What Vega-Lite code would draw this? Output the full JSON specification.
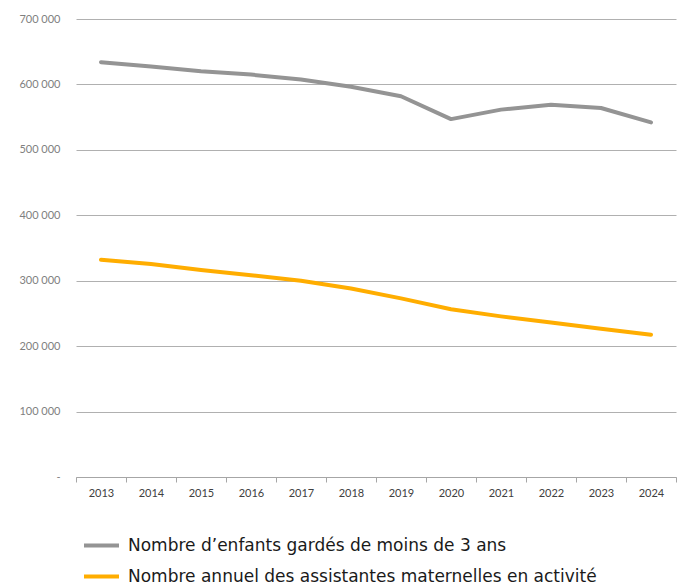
{
  "$schema": "https://vega.github.io/schema/vega-lite/v6.json",
  "autosize": "none",
  "width": 600,
  "height": 458,
  "padding": {"left": 76, "top": 19, "right": 5, "bottom": 108},
  "background": "white",
  "data": {
    "values": [
      {"annee": "2013", "serie": "Nombre d’enfants gardés de moins de 3 ans", "valeur": 634000},
      {"annee": "2014", "serie": "Nombre d’enfants gardés de moins de 3 ans", "valeur": 627500},
      {"annee": "2015", "serie": "Nombre d’enfants gardés de moins de 3 ans", "valeur": 620000},
      {"annee": "2016", "serie": "Nombre d’enfants gardés de moins de 3 ans", "valeur": 615000},
      {"annee": "2017", "serie": "Nombre d’enfants gardés de moins de 3 ans", "valeur": 607500},
      {"annee": "2018", "serie": "Nombre d’enfants gardés de moins de 3 ans", "valeur": 596500},
      {"annee": "2019", "serie": "Nombre d’enfants gardés de moins de 3 ans", "valeur": 582000},
      {"annee": "2020", "serie": "Nombre d’enfants gardés de moins de 3 ans", "valeur": 547000},
      {"annee": "2021", "serie": "Nombre d’enfants gardés de moins de 3 ans", "valeur": 561500},
      {"annee": "2022", "serie": "Nombre d’enfants gardés de moins de 3 ans", "valeur": 569000},
      {"annee": "2023", "serie": "Nombre d’enfants gardés de moins de 3 ans", "valeur": 564000},
      {"annee": "2024", "serie": "Nombre d’enfants gardés de moins de 3 ans", "valeur": 542000},
      {"annee": "2013", "serie": "Nombre annuel des assistantes maternelles en activité", "valeur": 332000},
      {"annee": "2014", "serie": "Nombre annuel des assistantes maternelles en activité", "valeur": 325500},
      {"annee": "2015", "serie": "Nombre annuel des assistantes maternelles en activité", "valeur": 316500},
      {"annee": "2016", "serie": "Nombre annuel des assistantes maternelles en activité", "valeur": 308500},
      {"annee": "2017", "serie": "Nombre annuel des assistantes maternelles en activité", "valeur": 300000},
      {"annee": "2018", "serie": "Nombre annuel des assistantes maternelles en activité", "valeur": 288000},
      {"annee": "2019", "serie": "Nombre annuel des assistantes maternelles en activité", "valeur": 273000},
      {"annee": "2020", "serie": "Nombre annuel des assistantes maternelles en activité", "valeur": 256500},
      {"annee": "2021", "serie": "Nombre annuel des assistantes maternelles en activité", "valeur": 245500},
      {"annee": "2022", "serie": "Nombre annuel des assistantes maternelles en activité", "valeur": 236000},
      {"annee": "2023", "serie": "Nombre annuel des assistantes maternelles en activité", "valeur": 226500},
      {"annee": "2024", "serie": "Nombre annuel des assistantes maternelles en activité", "valeur": 217500}
    ]
  },
  "mark": {"type": "line", "strokeWidth": 4, "strokeCap": "round", "strokeJoin": "round"},
  "encoding": {
    "x": {
      "field": "annee",
      "type": "ordinal",
      "scale": {"type": "band", "paddingInner": 0, "paddingOuter": 0},
      "axis": {
        "title": null,
        "labelAngle": 0,
        "tickBand": "extent",
        "domainColor": "#a6a6a6",
        "tickColor": "#a6a6a6",
        "tickSize": 5,
        "labelPadding": 5,
        "labelFont": "Lato",
        "labelFontSize": 11,
        "labelColor": "#404040",
        "grid": false
      }
    },
    "y": {
      "field": "valeur",
      "type": "quantitative",
      "scale": {"domain": [0, 700000], "nice": false},
      "axis": {
        "title": null,
        "values": [0, 100000, 200000, 300000, 400000, 500000, 600000, 700000],
        "labelExpr": "datum.value == 0 ? '-' : replace(format(datum.value, ',d'), /,/g, ' ')",
        "domain": false,
        "ticks": false,
        "labelPadding": 16,
        "labelFont": "Lato",
        "labelFontSize": 11,
        "labelColor": "#7f7f7f",
        "gridColor": "#b0b0b0",
        "gridWidth": 1
      }
    },
    "color": {
      "field": "serie",
      "type": "nominal",
      "sort": ["Nombre d’enfants gardés de moins de 3 ans", "Nombre annuel des assistantes maternelles en activité"],
      "scale": {
        "domain": ["Nombre d’enfants gardés de moins de 3 ans", "Nombre annuel des assistantes maternelles en activité"],
        "range": ["#949494", "#FFAD00"]
      },
      "legend": {
        "title": null,
        "orient": "none",
        "legendX": 6,
        "legendY": 518,
        "direction": "vertical",
        "symbolType": "stroke",
        "symbolSize": 1225,
        "symbolStrokeWidth": 4,
        "labelFont": "DejaVu Sans",
        "labelFontSize": 17,
        "labelColor": "#1a1a1a",
        "labelOffset": 7,
        "rowPadding": 13,
        "labelLimit": 600,
        "clipHeight": 17
      }
    }
  },
  "config": {"view": {"stroke": null}}
}
